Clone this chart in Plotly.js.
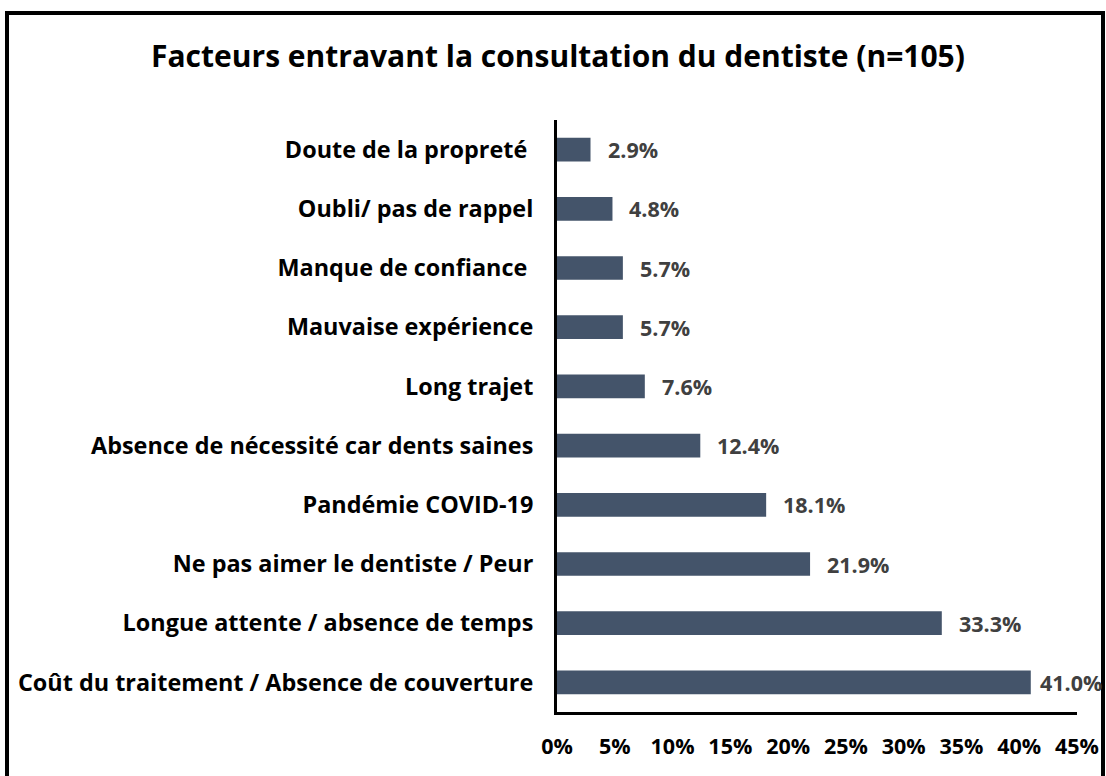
<!DOCTYPE html>
<html>
<head>
<meta charset="utf-8">
<script src="https://cdn.plot.ly/plotly-3.0.1.min.js"></script>
<style>
html,body{margin:0;padding:0;background:#fff;}
#chart{width:1106px;height:776px;}
</style>
</head>
<body>
<div id="chart"></div>
<script>
const categories = [
  "Doute de la propreté ",
  "Oubli/ pas de rappel",
  "Manque de confiance ",
  "Mauvaise expérience",
  "Long trajet",
  "Absence de nécessité car dents saines",
  "Pandémie COVID-19",
  "Ne pas aimer le dentiste / Peur",
  "Longue attente / absence de temps",
  "Coût du traitement / Absence de couverture"
];
const values = [2.9, 4.8, 5.7, 5.7, 7.6, 12.4, 18.1, 21.9, 33.3, 41.0];
const tickVals = [0, 5, 10, 15, 20, 25, 30, 35, 40, 45];
const tickText = ["0%", "5%", "10%", "15%", "20%", "25%", "30%", "35%", "40%", "45%"];
const titleText = "Facteurs entravant la consultation du dentiste (n=105)";

const FONT = "'Open Sans', 'Noto Sans', sans-serif";

// plot area in pixels
const L = 557, R = 1077, T = 120, B = 712, W = 1106, H = 776;
const px = x => (x - L) / (R - L);
const py = y => (B - y) / (B - T);

const trace = {
  type: "bar",
  orientation: "h",
  y: categories,
  x: values,
  marker: {color: "#44546A", line: {width: 0}},
  width: 0.4,
  hoverinfo: "x+y"
};

const annotations = values.map((v, i) => ({
  x: v, y: categories[i], xref: "x", yref: "y",
  text: v.toFixed(1) + "%",
  showarrow: false, xanchor: "left", yanchor: "middle", xshift: v > 40 ? 7 : 15,
  font: {family: FONT, size: 21.5, color: "#404040", weight: 700}
}));

const layout = {
  width: W, height: H,
  margin: {l: L, r: W - R, t: T, b: H - B, pad: 0},
  paper_bgcolor: "#fff", plot_bgcolor: "#fff",
  showlegend: false,
  bargap: 0.6,
  title: {
    text: "<b>" + titleText + "</b>",
    font: {family: FONT, size: 30, color: "#000"},
    x: 558 / W, xanchor: "center", xref: "container",
    y: 1 - 56 / H, yanchor: "middle", yref: "container"
  },
  xaxis: {
    range: [0, 45], tickvals: tickVals, ticktext: tickText,
    showgrid: false, zeroline: false, showline: true, linecolor: "#000", linewidth: 3,
    ticks: "", ticklabelstandoff: 13,
    tickfont: {family: FONT, size: 21.5, color: "#000", weight: 700},
    fixedrange: true
  },
  yaxis: {
    autorange: "reversed", type: "category",
    showgrid: false, zeroline: false, showline: true, linecolor: "#000", linewidth: 3,
    ticks: "", ticklabelstandoff: 16,
    tickfont: {family: FONT, size: 23.4, color: "#000", weight: 700},
    fixedrange: true
  },
  annotations: annotations,
  shapes: [{
    type: "rect", xref: "paper", yref: "paper",
    x0: px(7), x1: px(1103), y0: py(13), y1: py(790),
    line: {color: "#000", width: 4}, fillcolor: "rgba(0,0,0,0)", layer: "above"
  }]
};

Plotly.newPlot("chart", [trace], layout, {displayModeBar: false, staticPlot: true});
</script>
</body>
</html>
